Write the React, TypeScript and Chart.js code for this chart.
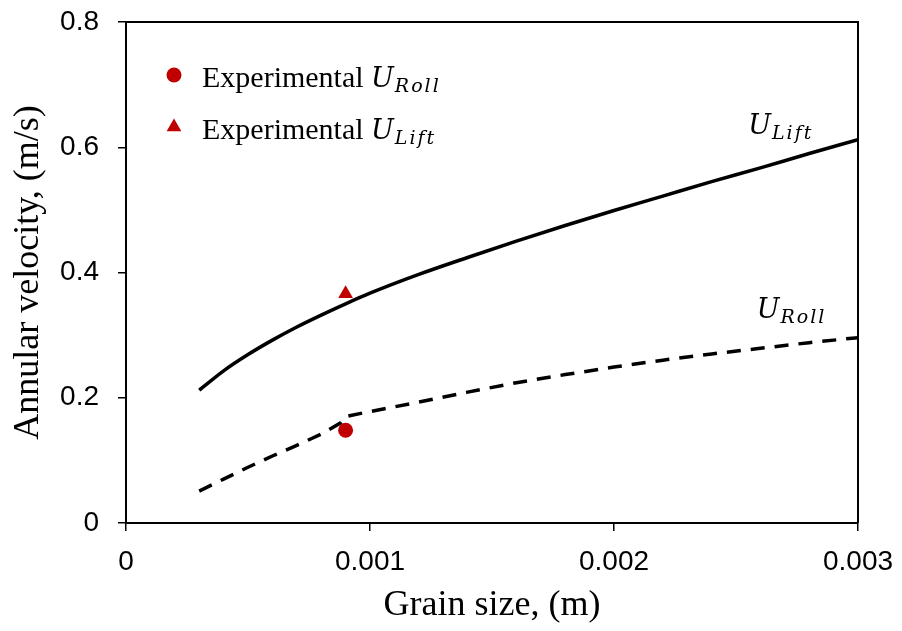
import React, { useEffect, useRef } from 'react';
import { Chart, registerables } from 'chart.js';

Chart.register(...registerables);

// ---- data ----
const liftX = [0.0003, 0.0004, 0.0005, 0.0006, 0.0007, 0.0008, 0.0009, 0.001, 0.0012, 0.0014, 0.0016, 0.0018, 0.002, 0.0022, 0.0024, 0.0026, 0.0028, 0.003];
const liftY = [0.212, 0.243, 0.269, 0.292, 0.313, 0.332, 0.35, 0.367, 0.397, 0.424, 0.45, 0.475, 0.499, 0.522, 0.545, 0.567, 0.59, 0.612];
const rollX = [0.0003, 0.0004, 0.0005, 0.0006, 0.0007, 0.0008, 0.00088, 0.0009, 0.001, 0.0012, 0.0014, 0.0016, 0.0018, 0.002, 0.0022, 0.0024, 0.0026, 0.0028, 0.003];
const rollY = [0.051, 0.07, 0.089, 0.107, 0.124, 0.142, 0.16, 0.17, 0.178, 0.193, 0.209, 0.224, 0.237, 0.249, 0.26, 0.27, 0.279, 0.288, 0.296];
const expRollX = [0.0009];
const expRollY = [0.148];
const expLiftX = [0.0009];
const expLiftY = [0.366];

const xTicks = [0, 0.001, 0.002, 0.003];
const xTickLabels = ['0', '0.001', '0.002', '0.003'];
const yTicks = [0, 0.2, 0.4, 0.6, 0.8];
const yTickLabels = ['0', '0.2', '0.4', '0.6', '0.8'];

const xTitle = 'Grain size, (m)';
const yTitle = 'Annular velocity, (m/s)';
const legendText = 'Experimental ';
const legendSubs = ['Roll', 'Lift'];
const curveLabelSubs = ['Lift', 'Roll'];
const curveLabelX = [0.00255, 0.002585];
const curveLabelY = [0.621, 0.328];

const RED = '#C00000';
const SERIF = '"Liberation Serif", "Times New Roman", serif';
const SANS = '"Liberation Sans", Arial, sans-serif';
const MATH = '"DejaVu Serif", serif';

function drawMath(ctx: CanvasRenderingContext2D, x: number, y: number, sub: string, uSize: number, subSize: number) {
  ctx.save();
  ctx.fillStyle = '#000';
  ctx.textAlign = 'left';
  ctx.textBaseline = 'alphabetic';
  ctx.font = `italic ${uSize}px ${MATH}`;
  ctx.fillText('U', x, y);
  const w = ctx.measureText('U').width;
  ctx.font = `italic ${subSize}px ${MATH}`;
  (ctx as any).letterSpacing = '2px';
  ctx.fillText(sub, x + w + 1, y + 5);
  (ctx as any).letterSpacing = '0px';
  ctx.restore();
}

const decorPlugin = {
  id: 'decor',
  afterDraw(chart: any) {
    const { ctx, chartArea, scales } = chart;
    const { left, right, top, bottom } = chartArea;
    ctx.save();
    // frame top & right
    ctx.strokeStyle = '#000';
    ctx.lineWidth = 2;
    ctx.beginPath();
    ctx.moveTo(left, top);
    ctx.lineTo(right, top);
    ctx.lineTo(right, bottom);
    ctx.stroke();

    // curve labels
    for (let i = 0; i < curveLabelSubs.length; i++) {
      const px = scales.x.getPixelForValue(curveLabelX[i]);
      const py = scales.y.getPixelForValue(curveLabelY[i]);
      drawMath(ctx, px, py, curveLabelSubs[i], 27, 19);
    }

    // legend
    const lx = left + 48;
    const rows = [top + 53, top + 105];
    for (let i = 0; i < 2; i++) {
      const cy = rows[i];
      ctx.fillStyle = RED;
      ctx.beginPath();
      if (i === 0) {
        ctx.arc(lx, cy, 7.5, 0, Math.PI * 2);
      } else {
        const r = 8.5;
        ctx.moveTo(lx, cy - r);
        ctx.lineTo(lx + r * Math.sin(Math.PI * 2 / 3), cy + r / 2);
        ctx.lineTo(lx - r * Math.sin(Math.PI * 2 / 3), cy + r / 2);
        ctx.closePath();
      }
      ctx.fill();
      ctx.fillStyle = '#000';
      ctx.font = `30px ${SERIF}`;
      ctx.textAlign = 'left';
      ctx.textBaseline = 'alphabetic';
      const tx = lx + 28;
      const ty = cy + 12;
      ctx.fillText(legendText, tx, ty);
      const tw = ctx.measureText(legendText).width;
      drawMath(ctx, tx + tw, ty, legendSubs[i], 27, 19);
    }
    ctx.restore();
  },
};

export default function App() {
  const ref = useRef<HTMLCanvasElement>(null);
  useEffect(() => {
    if (!ref.current) return;
    const chart = new Chart(ref.current, {
      type: 'line',
      data: {
        datasets: [
          {
            type: 'scatter',
            label: 'Experimental U_Roll',
            data: expRollX.map((x, i) => ({ x, y: expRollY[i] })),
            pointStyle: 'circle',
            pointRadius: 7.5,
            pointBackgroundColor: RED,
            pointBorderWidth: 0,
            showLine: false,
          } as any,
          {
            type: 'scatter',
            label: 'Experimental U_Lift',
            data: expLiftX.map((x, i) => ({ x, y: expLiftY[i] })),
            pointStyle: 'triangle',
            pointRadius: 8.5,
            pointBackgroundColor: RED,
            pointBorderWidth: 0,
            showLine: false,
          } as any,
          {
            label: 'U_Lift',
            data: liftX.map((x, i) => ({ x, y: liftY[i] })),
            borderColor: '#000',
            borderWidth: 3.5,
            pointRadius: 0,
            cubicInterpolationMode: 'monotone',
            fill: false,
          },
          {
            label: 'U_Roll',
            data: rollX.map((x, i) => ({ x, y: rollY[i] })),
            borderColor: '#000',
            borderWidth: 3.5,
            borderDash: [14, 10],
            pointRadius: 0,
            tension: 0,
            fill: false,
          },
        ],
      },
      options: {
        responsive: false,
        animation: false,
        layout: { padding: { top: 22, right: 44, left: 0, bottom: 0 } },
        plugins: { legend: { display: false }, tooltip: { enabled: false } },
        scales: {
          x: {
            type: 'linear',
            min: 0,
            max: 0.003,
            afterBuildTicks: (s: any) => { s.ticks = xTicks.map((v) => ({ value: v })); },
            afterFit: (s: any) => { s.height = 108; s.paddingLeft = 0; s.paddingRight = 0; },
            ticks: {
              callback: (_v: any, i: number) => xTickLabels[i],
              color: '#000',
              font: { family: SANS, size: 28 },
              padding: 14,
              maxRotation: 0,
              autoSkip: false,
            },
            grid: { drawOnChartArea: false, drawTicks: true, tickLength: 8, color: '#000', lineWidth: 1.5 },
            border: { display: true, color: '#000', width: 2 },
            title: {
              display: true,
              text: xTitle,
              color: '#000',
              font: { family: SERIF, size: 36, weight: 'normal' },
              padding: { top: 0, bottom: 4 },
            },
          },
          y: {
            type: 'linear',
            min: 0,
            max: 0.8,
            afterBuildTicks: (s: any) => { s.ticks = yTicks.map((v) => ({ value: v })); },
            afterFit: (s: any) => { s.width = 126; s.paddingTop = 0; s.paddingBottom = 0; },
            ticks: {
              callback: (_v: any, i: number) => yTickLabels[i],
              color: '#000',
              font: { family: SANS, size: 28 },
              padding: 19,
            },
            grid: { drawOnChartArea: false, drawTicks: true, tickLength: 8, color: '#000', lineWidth: 1.5 },
            border: { display: true, color: '#000', width: 2 },
            title: {
              display: true,
              text: yTitle,
              color: '#000',
              font: { family: SERIF, size: 36, weight: 'normal' },
              padding: { top: 7, bottom: 0 },
            },
          },
        },
      },
      plugins: [decorPlugin],
    });
    return () => chart.destroy();
  }, []);
  return (
    <canvas
      ref={ref}
      width={902}
      height={631}
      style={{ position: 'absolute', left: 0, top: 0, display: 'block' }}
    />
  );
}
